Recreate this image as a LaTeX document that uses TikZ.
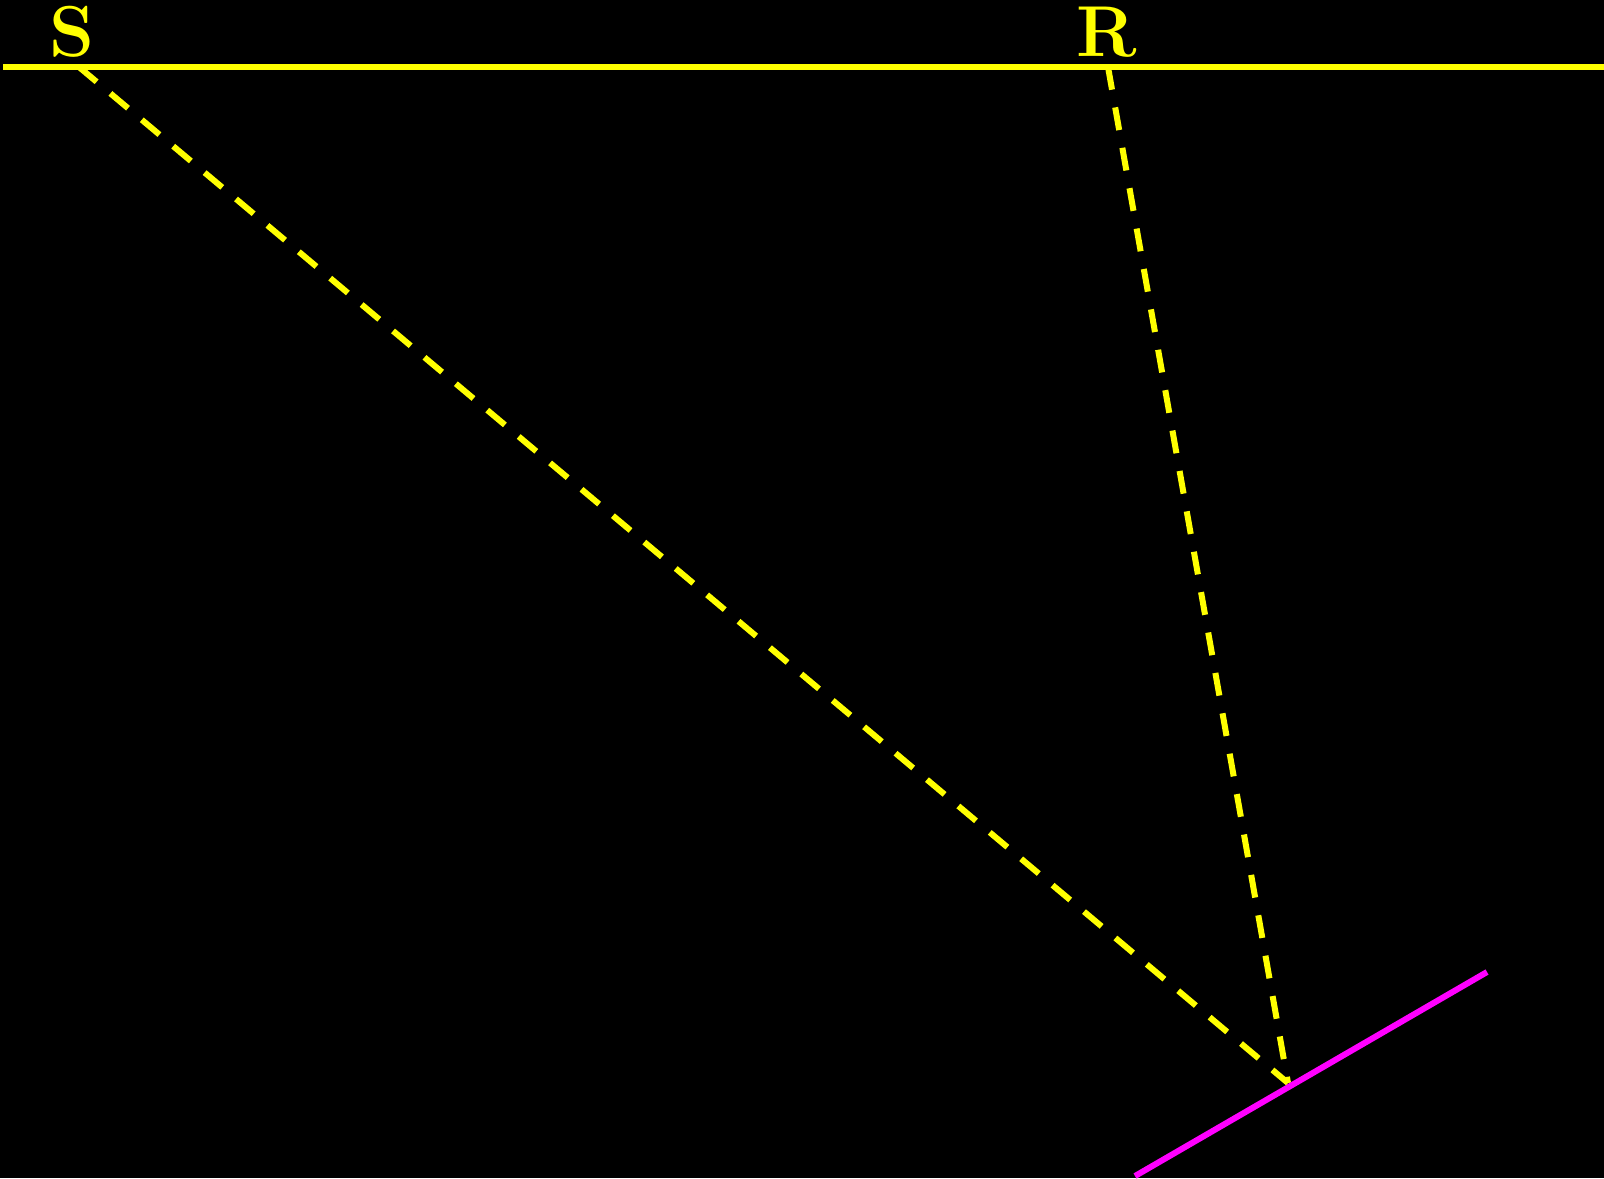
\documentclass[tikz,border=0pt]{standalone}
\usepackage{xcolor}
\usepackage{tikz}
\usetikzlibrary{positioning,calc}

\definecolor{rayyellow}{RGB}{255,255,0}
\definecolor{mirrorpink}{RGB}{255,0,255}

\begin{document}
\begin{tikzpicture}[
  x=0.01cm, y=-0.01cm,
  lbl/.style={text=rayyellow, font=\fontsize{20.5}{24}\selectfont\bfseries, inner sep=0pt, anchor=base},
  surf/.style={draw=rayyellow, line width=0.065cm},
  ray/.style={draw=rayyellow, line width=0.06cm, dash pattern=on 0.23cm off 0.18cm},
  mirror/.style={draw=mirrorpink, line width=0.06cm}
]
  \fill[black] (0,0) rectangle (1604,1178);
  \useasboundingbox (0,0) rectangle (1604,1178);
  % points
  \coordinate (left) at (3,67);
  \coordinate (right) at (1604,67);
  \coordinate (src) at (79,67);
  \coordinate (rcv) at (1108,67);
  \coordinate (tip) at (1288,1083);
  \coordinate (m1) at (1135,1176);
  \coordinate (m2) at (1487,972);
  \node[lbl] (s) at (72,56) {S};
  \node[lbl] (r) at (1107,56) {R};
  \draw[surf] (left) -- (right);
  \draw[ray] (src) -- (tip);
  \draw[ray] (rcv) -- (tip);
  \draw[mirror] (m1) -- (m2);
\end{tikzpicture}
\end{document}
